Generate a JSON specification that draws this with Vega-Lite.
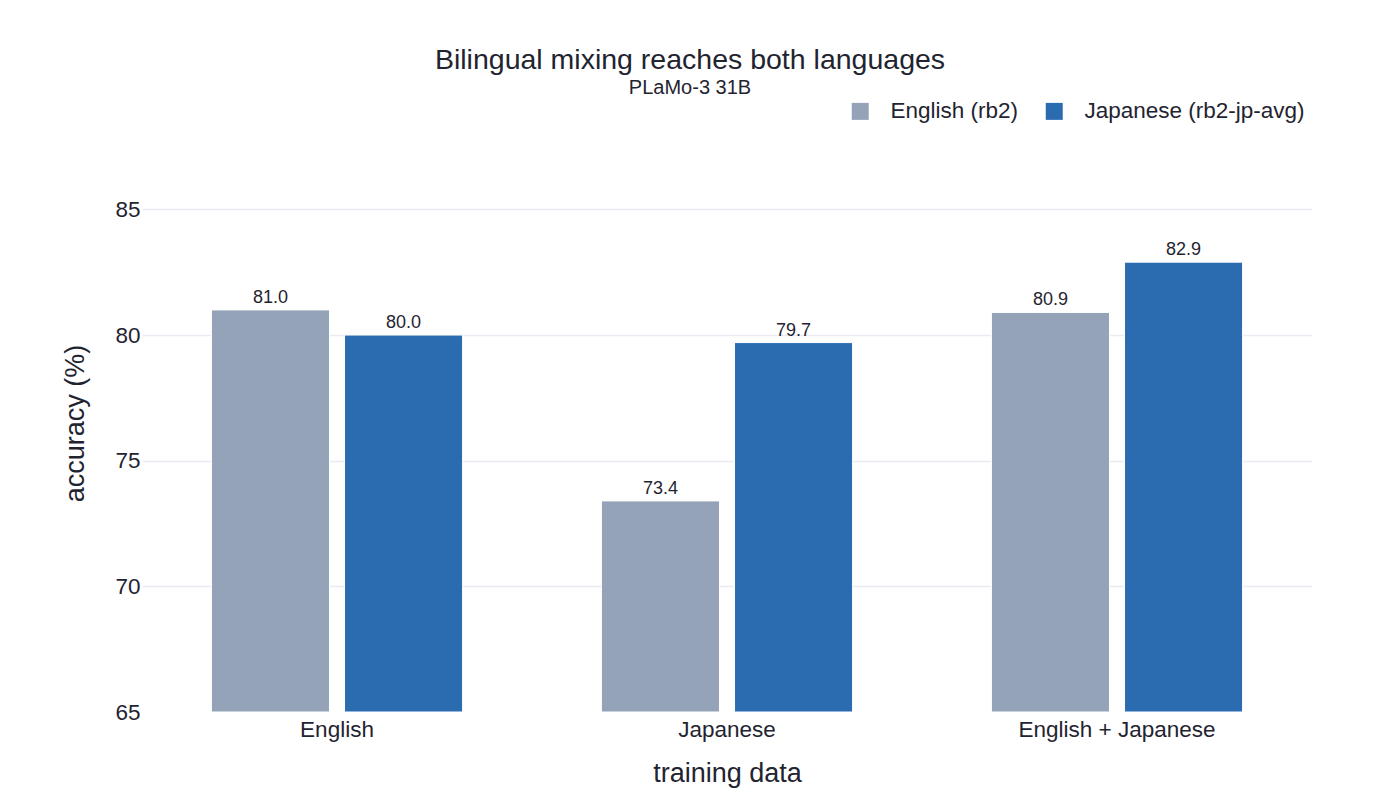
{
  "$schema": "https://vega.github.io/schema/vega-lite/v6.json",
  "background": "white",
  "autosize": {"type": "none"},
  "padding": {"left": 142, "top": 134, "right": 68, "bottom": 98},
  "width": 1170,
  "height": 578,
  "title": {
    "text": "Bilingual mixing reaches both languages",
    "subtitle": "PLaMo-3 31B",
    "anchor": "middle",
    "frame": "group",
    "dx": -37,
    "fontSize": 28.5,
    "fontWeight": "normal",
    "subtitleFontSize": 20,
    "subtitlePadding": 4,
    "color": "#1f2430",
    "subtitleColor": "#1f2430",
    "offset": 2
  },
  "config": {
    "font": "Liberation Sans",
    "view": {"stroke": null},
    "axis": {"labelColor": "#1f2430", "titleColor": "#1f2430"},
    "legend": {"labelColor": "#1f2430"}
  },
  "data": {
    "values": [
      {"training": "English", "eval": "English (rb2)", "accuracy": 81.0},
      {"training": "English", "eval": "Japanese (rb2-jp-avg)", "accuracy": 80.0},
      {"training": "Japanese", "eval": "English (rb2)", "accuracy": 73.4},
      {"training": "Japanese", "eval": "Japanese (rb2-jp-avg)", "accuracy": 79.7},
      {"training": "English + Japanese", "eval": "English (rb2)", "accuracy": 80.9},
      {"training": "English + Japanese", "eval": "Japanese (rb2-jp-avg)", "accuracy": 82.9}
    ]
  },
  "encoding": {
    "x": {
      "field": "training",
      "type": "nominal",
      "sort": ["English", "Japanese", "English + Japanese"],
      "scale": {"paddingInner": 0.356, "paddingOuter": 0.178},
      "axis": {
        "title": "training data",
        "labelAngle": 0,
        "labelFontSize": 22.5,
        "labelPadding": 6,
        "labelLimit": 400,
        "ticks": false,
        "domain": false,
        "titleFontSize": 27,
        "titleFontWeight": "normal",
        "titlePadding": 20
      }
    },
    "xOffset": {
      "field": "eval",
      "type": "nominal",
      "sort": ["English (rb2)", "Japanese (rb2-jp-avg)"],
      "scale": {"paddingInner": 0.113, "paddingOuter": 0}
    },
    "y": {
      "field": "accuracy",
      "type": "quantitative",
      "scale": {"domain": [65, 88], "nice": false, "zero": false, "clamp": true},
      "axis": {
        "title": "accuracy (%)",
        "values": [65, 70, 75, 80, 85],
        "labelFontSize": 22.5,
        "labelPadding": 2,
        "ticks": false,
        "domain": false,
        "gridColor": "#e9ecf2",
        "gridWidth": 1.5,
        "gridOpacity": {"condition": {"test": "datum.value == 65", "value": 0}, "value": 1},
        "titleFontSize": 27,
        "titleFontWeight": "normal",
        "titlePadding": 25
      }
    }
  },
  "layer": [
    {
      "mark": {"type": "bar", "stroke": "white", "strokeWidth": 1},
      "encoding": {
        "color": {
          "field": "eval",
          "type": "nominal",
          "sort": ["English (rb2)", "Japanese (rb2-jp-avg)"],
          "scale": {"range": ["#94a3b8", "#2b6cb0"]},
          "legend": {
            "title": null,
            "orient": "none",
            "direction": "horizontal",
            "legendX": 707,
            "legendY": -34,
            "symbolType": "square",
            "symbolSize": 289,
            "symbolStrokeWidth": 0,
            "symbolOpacity": 1,
            "labelFontSize": 22.5,
            "labelOffset": 19,
            "labelLimit": 400,
            "columnPadding": 24
          }
        }
      }
    },
    {
      "mark": {"type": "text", "baseline": "bottom", "dy": -3, "fontSize": 18, "color": "#1f2430"},
      "encoding": {
        "text": {"field": "accuracy", "type": "quantitative", "format": ".1f"}
      }
    }
  ]
}
